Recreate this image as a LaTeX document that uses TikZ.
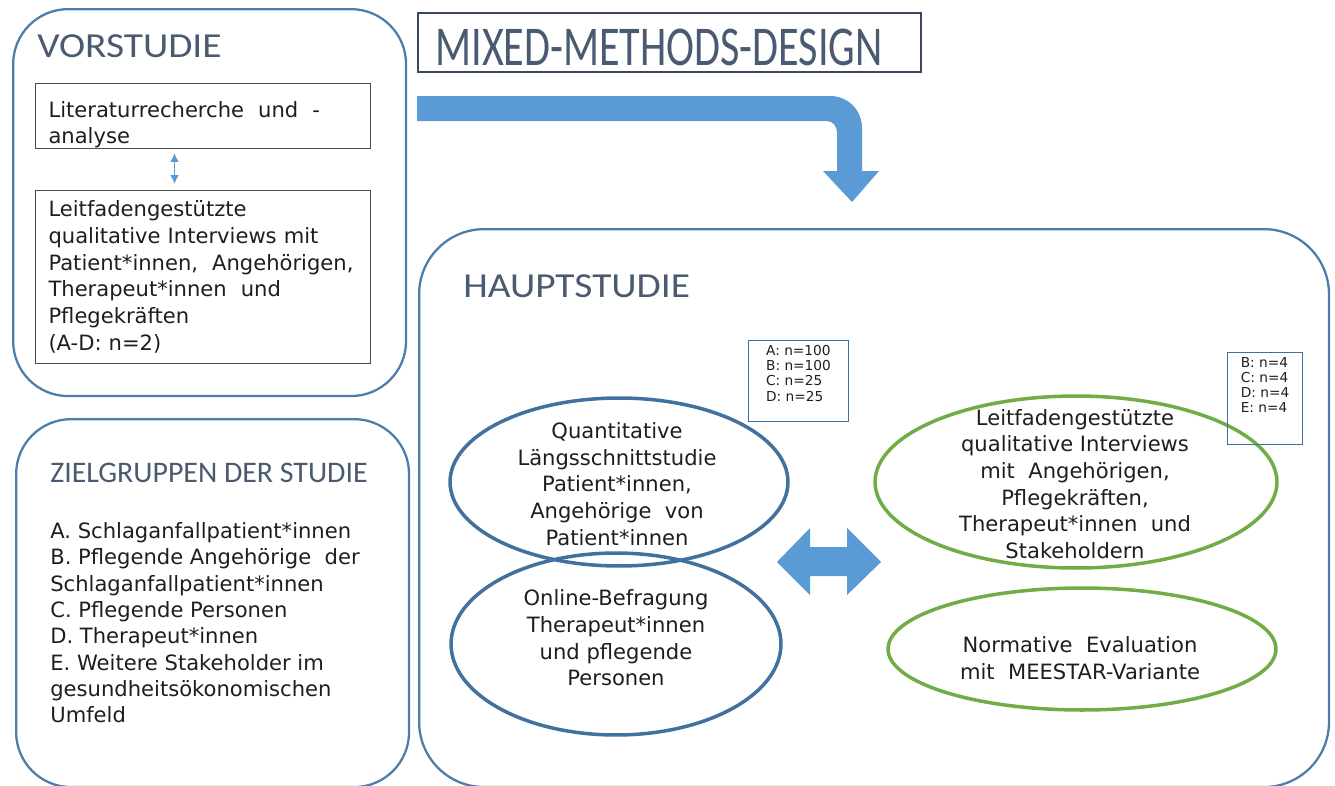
\documentclass[tikz,border=0pt]{standalone}
\usepackage{fontspec}
\usepackage{graphicx}
\setmainfont{DejaVu Sans}
\newfontfamily\headfont{Carlito}
\usetikzlibrary{shapes.geometric,arrows.meta,positioning}

\definecolor{framecol}{HTML}{4F7DAA}
\definecolor{ellblue}{HTML}{41719C}
\definecolor{ellgreen}{HTML}{70AD47}
\definecolor{arrowcol}{HTML}{5B9BD5}
\definecolor{headcol}{HTML}{4A5A70}
\definecolor{textcol}{HTML}{1E1E1E}

\newcommand{\bodysize}{\fontsize{12}{15.2}\selectfont}
\newcommand{\smallsize}{\fontsize{7.8}{8.6}\selectfont}

\tikzset{
  panel/.style={draw=framecol, line width=1.3pt, rounded corners=1.1cm, anchor=north west},
  textbox/.style={draw=black!70, line width=0.6pt, anchor=north west, minimum width=6.7cm,
    text width=6.18cm, inner xsep=0.26cm, align=left, text=textcol, font=\bodysize},
  nbox/.style={draw=ellblue, line width=0.6pt, anchor=north west, align=left,
    inner ysep=0.1cm, text=textcol, font=\smallsize},
  heading/.style={inner sep=0pt, anchor=base west, text=headcol},
  blueell/.style={ellipse, draw=ellblue, line width=2pt, inner sep=0pt},
  greenell/.style={ellipse, draw=ellgreen, line width=2pt, inner sep=0pt},
  elltext/.style={align=center, text=textcol, font=\bodysize, inner sep=0pt},
  linkarrow/.style={arrowcol, line width=1pt, {Latex[length=5pt,width=5pt]}-{Latex[length=5pt,width=5pt]}}
}

\begin{document}
\begin{tikzpicture}[x=0.02cm, y=-0.02cm]
  \clip (0,0) rectangle (1335,785);

  % Panels
  \node[panel, minimum width=7.86cm, minimum height=7.74cm] (vor) at (12,8) {};
  \node[panel, minimum width=7.86cm, minimum height=7.36cm] (ziel) at (15,418) {};
  \node[panel, minimum width=18.2cm, minimum height=11.16cm, rounded corners=1.3cm] (haupt) at (418,228) {};

  % Headings
  \node[heading, font=\headfont\fontsize{20}{24}\selectfont] (vortitle) at (37,57)
    {\scalebox{1.12}[1]{VORSTUDIE}};
  \node[heading, font=\headfont\fontsize{20}{24}\selectfont] (haupttitle) at (463,297)
    {\scalebox{1.12}[1]{HAUPTSTUDIE}};
  \node[heading, font=\headfont\fontsize{17}{20}\selectfont] (zieltitle) at (50,482)
    {ZIELGRUPPEN DER STUDIE};
  \node[draw=headcol!80!black, line width=1pt, anchor=north west, minimum width=10.06cm,
    minimum height=1.18cm] (mixed) at (417,12) {};
  \node[heading, font=\headfont\fontsize{32}{36}\selectfont] (mixedtitle) at (435,65)
    {\scalebox{0.75}[1]{MIXED-METHODS-DESIGN}};

  % Vorstudie
  \node[textbox, minimum height=1.3cm, inner ysep=0pt] (lit) at (35,83)
    {\rule{0pt}{19pt}Literaturrecherche\ \ und\ \ -\\analyse};
  \node[textbox, minimum height=3.46cm] (leit) at (35,190)
    {Leitfadengestützte\\qualitative Interviews mit\\Patient*innen,\ \ Angehörigen,\\
     Therapeut*innen\ \ und\\Pflegekräften\\(A-D: n=2)};
  \draw[linkarrow] ([xshift=-0.57cm,yshift=-0.08cm]lit.south)
    -- ([xshift=-0.57cm,yshift=0.12cm]leit.north);

  % Zielgruppen
  \node[anchor=north west, align=left, inner sep=0pt, text=textcol,
    font=\fontsize{12}{15}\selectfont] (list) at (50,522)
    {A.\ Schlaganfallpatient*innen\\B.\ Pflegende Angehörige\ \ der\\Schlaganfallpatient*innen\\
     C.\ Pflegende Personen\\D.\ Therapeut*innen\\E.\ Weitere Stakeholder im\\
     gesundheitsökonomischen\\Umfeld};

  % Big arrows
  \fill[arrowcol] (417,96) -- (830,96) .. controls (848,96) and (862,110) .. (862,128)
    -- (862,171) -- (879,171) -- (852,202) -- (823,171) -- (837,171) -- (837,133)
    .. controls (837,126) and (833,121) .. (826,121) -- (417,121) -- cycle;
  \fill[arrowcol] (777,562) -- (810,528) -- (810,547) -- (847,547) -- (847,528) -- (881,562)
    -- (847,595) -- (847,576) -- (810,576) -- (810,595) -- cycle;

  % Hauptstudie ellipses
  \node[blueell, minimum width=6.76cm, minimum height=3.36cm] (quant) at (619,482) {};
  \node[blueell, minimum width=6.6cm, minimum height=3.64cm] (online) at (616,644) {};
  \node[greenell, minimum width=8.04cm, minimum height=3.44cm] (interv) at (1076,482) {};
  \node[greenell, minimum width=7.76cm, minimum height=2.44cm] (norm) at (1082,649) {};

  \node[elltext] (quanttext) at (617,484)
    {Quantitative\\Längsschnittstudie\\Patient*innen,\\Angehörige\ \ von\\Patient*innen};
  \node[elltext] (onlinetext) at (616,638)
    {Online-Befragung\\Therapeut*innen\\und pflegende\\Personen};
  \node[elltext] (intervtext) at (1075,484)
    {Leitfadengestützte\\qualitative Interviews\\mit\ \ Angehörigen,\\Pflegekräften,\\
     Therapeut*innen\ \ und\\Stakeholdern};
  \node[elltext] (normtext) at (1080,658)
    {Normative\ \ Evaluation\\mit\ \ MEESTAR-Variante};

  % Sample sizes
  \node[nbox, minimum width=2cm, inner xsep=0.3cm] (nquant) at (748,340)
    {A: n=100\\B: n=100\\C: n=25\\D: n=25\rule[-9pt]{0pt}{0pt}};
  \node[nbox, minimum width=1.5cm, inner xsep=0.22cm] (ninterv) at (1227,352)
    {B: n=4\\C: n=4\\D:\ n=4\\E: n=4\rule[-15pt]{0pt}{0pt}};
\end{tikzpicture}
\end{document}
